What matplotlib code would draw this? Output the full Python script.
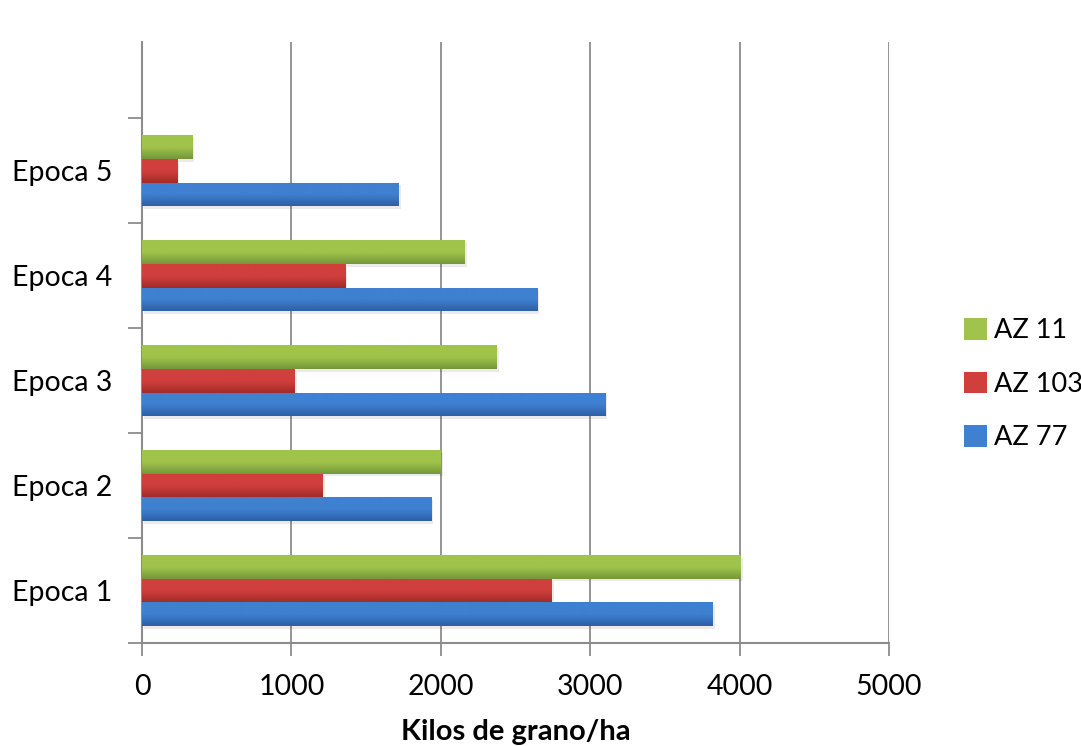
import numpy as np
import matplotlib.pyplot as plt
from matplotlib.colors import LinearSegmentedColormap
from matplotlib.patches import Patch

epocas = ["Epoca 1", "Epoca 2", "Epoca 3", "Epoca 4", "Epoca 5"]
az77 = [3820, 1935, 3100, 2645, 1720]
az103 = [2740, 1210, 1020, 1360, 235]
az11 = [4005, 2000, 2375, 2160, 335]

series = [("AZ 77", az77, "#2c60a6", "#3f80d0"),
          ("AZ 103", az103, "#a22b29", "#d03f3c"),
          ("AZ 11", az11, "#76973a", "#a0c44b")]

plt.rcParams["font.family"] = ["Lato", "DejaVu Sans"]
fs = 20.5

fig = plt.figure(figsize=(10.81, 7.46), dpi=100)
ax = fig.add_axes([0.1314, 0.138, 0.691, 0.806])

y = np.arange(len(epocas))
h = 0.225
grad = np.linspace(0, 1, 64).reshape(-1, 1)

for i, (name, vals, dark, light) in enumerate(series):
    cmap = LinearSegmentedColormap.from_list(name, [dark, light, light])
    pos = y + (i - 1) * h
    # drop shadow under each bar
    ax.barh(pos - 0.025, vals, height=h, left=15, color="#000000",
            alpha=0.08, zorder=2, linewidth=0)
    bars = ax.barh(pos, vals, height=h, color=light, zorder=3, linewidth=0)
    for b in bars:
        x0, y0 = b.get_x(), b.get_y()
        im = ax.imshow(grad, cmap=cmap, aspect="auto", origin="lower",
                       extent=(x0, x0 + b.get_width(), y0, y0 + b.get_height()),
                       zorder=4)
        im.set_clip_path(b)

ax.set_xlim(0, 5000)
ax.set_ylim(-0.5, 5.23)
ax.set_xticks(range(0, 5001, 1000))
ax.set_yticks(y)
ax.set_yticklabels(epocas)
ax.set_yticks(np.arange(-0.5, 5, 1), minor=True)
ax.tick_params(axis="y", which="major", length=0, pad=21.5, labelsize=fs)
ax.tick_params(axis="y", which="minor", length=10, width=1.3, color="#8c8c8c", direction="out")
ax.tick_params(axis="x", length=9, width=1.3, color="#8c8c8c", pad=13, labelsize=fs)

ax.grid(axis="x", color="#8c8c8c", linewidth=1.3, zorder=1)
ax.set_axisbelow(True)
for s in ["top", "right"]:
    ax.spines[s].set_visible(False)
for s in ["left", "bottom"]:
    ax.spines[s].set_color("#8c8c8c")
    ax.spines[s].set_linewidth(1.5)

ax.set_xlabel("Kilos de grano/ha", fontsize=21, fontweight="bold", labelpad=14)

handles = [Patch(facecolor=s[3], label=s[0]) for s in series[::-1]]
fig.legend(handles=handles, loc="center left", bbox_to_anchor=(0.892, 0.485),
           frameon=False, fontsize=19.5, handlelength=0.85, handleheight=0.85,
           handletextpad=0.25, labelspacing=1.05, borderpad=0, borderaxespad=0)

fig.savefig("out.png", dpi=100)
